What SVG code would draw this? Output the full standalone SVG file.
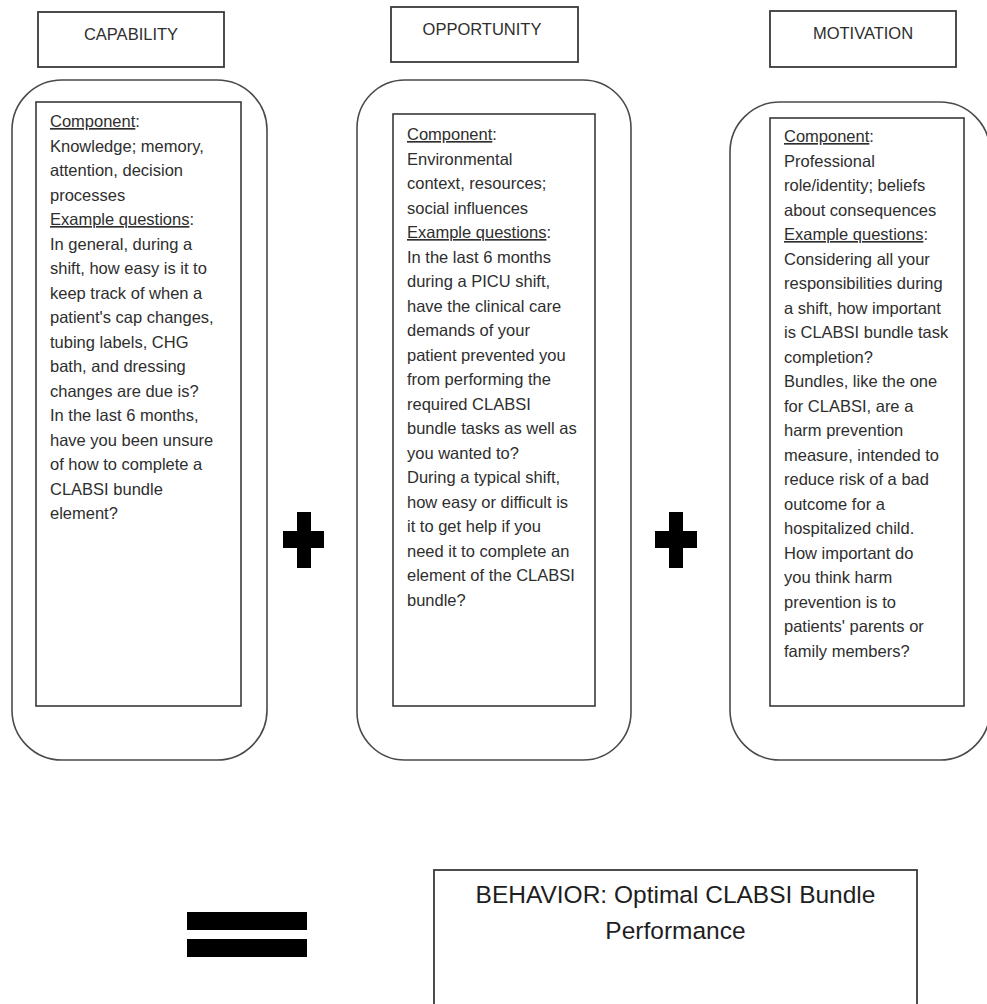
<svg xmlns="http://www.w3.org/2000/svg" width="987" height="1004" viewBox="0 0 987 1004">
<style>
.bg{fill:#ffffff}
.title{fill:#ffffff;stroke:#3a3a3a;stroke-width:1.8}
.outer{fill:#ffffff;stroke:#4a4a4a;stroke-width:1.6}
.inner{fill:#ffffff;stroke:#3a3a3a;stroke-width:1.6}
.t{font-family:"Liberation Sans",Arial,sans-serif;font-size:16.5px;fill:#2e2e2e}
.h{font-family:"Liberation Sans",Arial,sans-serif;font-size:16.5px;fill:#2e2e2e;text-anchor:middle}
.u{text-decoration:underline}
.big{font-family:"Liberation Sans",Arial,sans-serif;font-size:24.5px;fill:#1e1e1e;text-anchor:middle}
.sym{fill:#000000}
</style>
<rect class="bg" x="0" y="0" width="987" height="1004"/>

<g id="capability">
  <rect class="title" x="38" y="12" width="186" height="55"/>
  <text class="h" x="131" y="40">CAPABILITY</text>
  <rect class="outer" x="12" y="80" width="255" height="680" rx="50" ry="50"/>
  <rect class="inner" x="36" y="102" width="205" height="604"/>
  <text class="t" x="50" y="127">
    <tspan x="50" y="127"><tspan class="u">Component</tspan>:</tspan>
    <tspan x="50" y="151.5">Knowledge;  memory,</tspan>
    <tspan x="50" y="176">attention, decision</tspan>
    <tspan x="50" y="200.5">processes</tspan>
    <tspan x="50" y="225"><tspan class="u">Example questions</tspan>:</tspan>
    <tspan x="50" y="249.5">In general, during a</tspan>
    <tspan x="50" y="274">shift, how easy is it to</tspan>
    <tspan x="50" y="298.5">keep  track of when  a</tspan>
    <tspan x="50" y="323">patient's cap changes,</tspan>
    <tspan x="50" y="347.5">tubing labels, CHG</tspan>
    <tspan x="50" y="372">bath, and dressing</tspan>
    <tspan x="50" y="396.5">changes are due is?</tspan>
    <tspan x="50" y="421">In the  last 6 months,</tspan>
    <tspan x="50" y="445.5">have you been  unsure</tspan>
    <tspan x="50" y="470">of how to complete  a</tspan>
    <tspan x="50" y="494.5">CLABSI  bundle</tspan>
    <tspan x="50" y="519">element?</tspan>
  </text>
</g>

<g id="opportunity">
  <rect class="title" x="391" y="7" width="187" height="55"/>
  <text class="h" x="482" y="35">OPPORTUNITY</text>
  <rect class="outer" x="357" y="80" width="274" height="680" rx="48" ry="48"/>
  <rect class="inner" x="393" y="114" width="202" height="592"/>
  <text class="t" x="407" y="140">
    <tspan x="407" y="140"><tspan class="u">Component</tspan>:</tspan>
    <tspan x="407" y="164.5">Environmental</tspan>
    <tspan x="407" y="189">context, resources;</tspan>
    <tspan x="407" y="213.5">social influences</tspan>
    <tspan x="407" y="238"><tspan class="u">Example questions</tspan>:</tspan>
    <tspan x="407" y="262.5">In the  last 6 months</tspan>
    <tspan x="407" y="287">during a PICU shift,</tspan>
    <tspan x="407" y="311.5">have the clinical care</tspan>
    <tspan x="407" y="336">demands of your</tspan>
    <tspan x="407" y="360.5">patient prevented  you</tspan>
    <tspan x="407" y="385">from performing the</tspan>
    <tspan x="407" y="409.5">required CLABSI</tspan>
    <tspan x="407" y="434">bundle tasks as well as</tspan>
    <tspan x="407" y="458.5">you wanted to?</tspan>
    <tspan x="407" y="483">During a typical shift,</tspan>
    <tspan x="407" y="507.5">how easy or difficult is</tspan>
    <tspan x="407" y="532">it to get help if you</tspan>
    <tspan x="407" y="556.5">need  it to complete  an</tspan>
    <tspan x="407" y="581">element  of the  CLABSI</tspan>
    <tspan x="407" y="605.5">bundle?</tspan>
  </text>
</g>

<g id="motivation">
  <rect class="title" x="770" y="11" width="186" height="56"/>
  <text class="h" x="863" y="39">MOTIVATION</text>
  <rect class="outer" x="730" y="102" width="260" height="658" rx="50" ry="50"/>
  <rect class="inner" x="770" y="118" width="194" height="588"/>
  <text class="t" x="784" y="142">
    <tspan x="784" y="142"><tspan class="u">Component</tspan>:</tspan>
    <tspan x="784" y="166.5">Professional</tspan>
    <tspan x="784" y="191">role/identity; beliefs</tspan>
    <tspan x="784" y="215.5">about consequences</tspan>
    <tspan x="784" y="240"><tspan class="u">Example questions</tspan>:</tspan>
    <tspan x="784" y="264.5">Considering all your</tspan>
    <tspan x="784" y="289">responsibilities during</tspan>
    <tspan x="784" y="313.5">a shift, how  important</tspan>
    <tspan x="784" y="338">is CLABSI bundle task</tspan>
    <tspan x="784" y="362.5">completion?</tspan>
    <tspan x="784" y="387">Bundles, like the  one</tspan>
    <tspan x="784" y="411.5">for CLABSI, are a</tspan>
    <tspan x="784" y="436">harm prevention</tspan>
    <tspan x="784" y="460.5">measure, intended to</tspan>
    <tspan x="784" y="485">reduce  risk of a bad</tspan>
    <tspan x="784" y="509.5">outcome for a</tspan>
    <tspan x="784" y="534">hospitalized child.</tspan>
    <tspan x="784" y="558.5">How  important do</tspan>
    <tspan x="784" y="583">you think harm</tspan>
    <tspan x="784" y="607.5">prevention is to</tspan>
    <tspan x="784" y="632">patients' parents or</tspan>
    <tspan x="784" y="656.5">family members?</tspan>
  </text>
</g>

<g id="plus1">
  <rect class="sym" x="283" y="531" width="41" height="17"/>
  <rect class="sym" x="297" y="512" width="14" height="56"/>
</g>

<g id="plus2">
  <rect class="sym" x="655" y="531" width="42" height="17"/>
  <rect class="sym" x="669" y="512" width="14" height="56"/>
</g>

<g id="equals">
  <rect class="sym" x="187" y="912" width="120" height="18"/>
  <rect class="sym" x="187" y="939" width="120" height="18"/>
</g>

<g id="behavior">
  <rect class="title" x="434" y="870" width="483" height="140"/>
  <text class="big" x="675.5" y="903">BEHAVIOR:  Optimal CLABSI Bundle</text>
  <text class="big" x="675.5" y="939">Performance</text>
</g>

<g id="connectors"></g>
</svg>
